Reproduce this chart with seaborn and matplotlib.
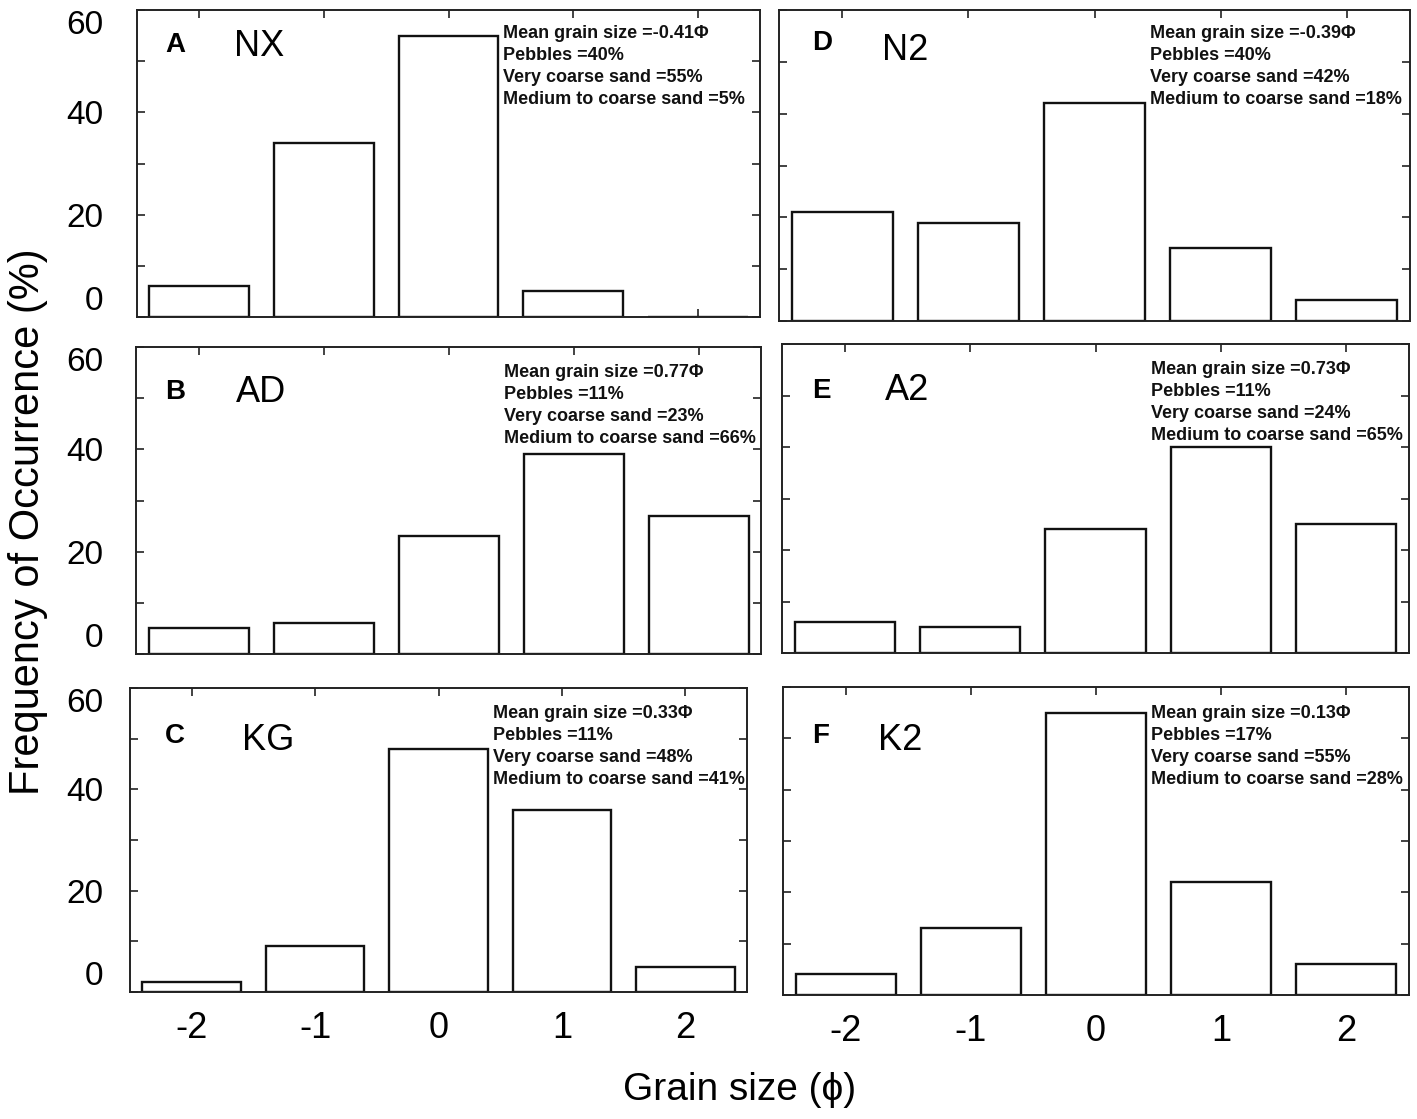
import numpy as np
import pandas as pd
import matplotlib
matplotlib.use("Agg")
import matplotlib.pyplot as plt
import seaborn as sns

sns.set_theme(style="ticks")
plt.rcParams['font.family'] = ['Liberation Sans', 'DejaVu Sans']
plt.rcParams['text.color'] = 'black'
plt.rcParams['xtick.labelcolor'] = 'black'
plt.rcParams['ytick.labelcolor'] = 'black'

# data
grain_phi = ['-2', '-1', '0', '1', '2']
panel_letters = ['A', 'B', 'C', 'D', 'E', 'F']
sites = ['NX', 'AD', 'KG', 'N2', 'A2', 'K2']
freq_NX = [6, 34, 55, 5, 0]
freq_AD = [5, 6, 23, 39, 27]
freq_KG = [2, 9, 48, 36, 5]
freq_N2 = [21, 19, 42, 14, 4]
freq_A2 = [6, 5, 24, 40, 25]
freq_K2 = [4, 13, 55, 22, 6]
mean_size = ['-0.41', '0.77', '0.33', '-0.39', '0.73', '0.13']
pebbles = [40, 11, 11, 40, 11, 17]
very_coarse = [55, 23, 48, 42, 24, 55]
med_coarse = [5, 66, 41, 18, 65, 28]
y_ticks = [0, 10, 20, 30, 40, 50, 60]
y_ticklabels = ['0', '', '20', '', '40', '', '60']

freqs = [freq_NX, freq_AD, freq_KG, freq_N2, freq_A2, freq_K2]

# layout in pixels (left, top, right, bottom)
W, H = 1417, 1119
boxes = [(137, 10, 760, 317), (136, 347, 761, 654), (130, 688, 747, 992),
         (779, 10, 1410, 321), (782, 344, 1409, 653), (783, 687, 1409, 995)]
letter_pos = [(0.061, 35), (0.062, 45), (0.072, 48), (0.069, 33), (0.063, 47), (0.060, 49)]
site_pos = [(0.196, 37), (0.200, 46), (0.224, 53), (0.200, 40), (0.199, 46), (0.187, 53)]
note_top = [24, 26, 26, 24, 25, 27]
note_step = 22

fig = plt.figure(figsize=(W / 100, H / 100), dpi=100)

for i in range(6):
    l, t, r, b = boxes[i]
    ax = fig.add_axes([l / W, 1 - b / H, (r - l) / W, (b - t) / H])
    df = pd.DataFrame({'phi': grain_phi, 'freq': freqs[i]})
    sns.barplot(data=df, x='phi', y='freq', order=grain_phi, ax=ax, width=0.8,
                color='white', saturation=1, edgecolor='#111111', linewidth=1.7,
                errorbar=None)
    ax.set_xlim(-0.5, 4.5)
    ax.set_ylim(0, 60)
    ax.set_yticks(y_ticks)
    ax.set_xlabel('')
    ax.set_ylabel('')
    for s in ax.spines.values():
        s.set_linewidth(1.4)
        s.set_color('#222222')
    left_col = i < 3
    bottom_row = i in (2, 5)
    ax.tick_params(direction='in', length=6, width=1.2, color='#222222',
                   top=True, right=True, labelleft=left_col, labelbottom=bottom_row)
    ax.tick_params(axis='y', labelsize=24, pad=(l - 103) * 0.72)
    ax.tick_params(axis='x', labelsize=26, pad=14)
    if left_col:
        labs = ax.set_yticklabels(y_ticklabels)
        labs[0].set_va('bottom')
        labs[-1].set_va('top')
    hpx = b - t
    ax.text(letter_pos[i][0], 1 - letter_pos[i][1] / hpx, panel_letters[i],
            transform=ax.transAxes, fontsize=20, fontweight='bold',
            ha='center', va='center')
    ax.text(site_pos[i][0], 1 - site_pos[i][1] / hpx, sites[i],
            transform=ax.transAxes, fontsize=26, ha='center', va='center')
    notes = ['Mean grain size =' + mean_size[i] + 'Φ',
             'Pebbles =' + str(pebbles[i]) + '%',
             'Very coarse sand =' + str(very_coarse[i]) + '%',
             'Medium to coarse sand =' + str(med_coarse[i]) + '%']
    trans = ax.get_xaxis_transform()
    for k, line in enumerate(notes):
        ax.text(2.44, 1 - (note_top[i] + k * note_step) / hpx, line,
                transform=trans, fontsize=13, fontweight='bold', color='#111111',
                ha='left', va='center')

fig.text(28 / W, 1 - 522 / H, 'Frequency of Occurrence (%)', rotation=90,
         fontsize=30, ha='center', va='center')
fig.text(740 / W, 1 - 1090 / H, 'Grain size (ϕ)', fontsize=28,
         ha='center', va='center')

fig.savefig('out.png', dpi=100)
